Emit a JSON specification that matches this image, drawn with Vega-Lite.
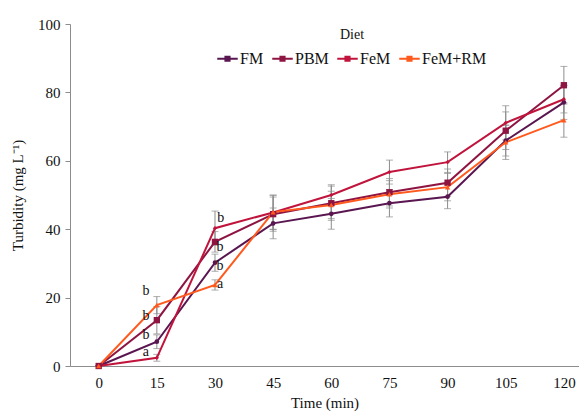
{
  "$schema": "https://vega.github.io/schema/vega-lite/v6.json",
  "width": 509,
  "height": 342,
  "autosize": {"type": "none"},
  "padding": {"left": 70, "top": 24, "right": 0, "bottom": 50},
  "background": "white",
  "config": {
    "font": "Liberation Serif",
    "view": {"stroke": null},
    "axis": {"grid": false, "domainColor": "#8c8c8c", "tickColor": "#8c8c8c", "labelColor": "#111", "titleColor": "#111", "labelFont": "Liberation Serif", "titleFont": "Liberation Serif", "labelFontSize": 15, "titleFontSize": 15, "titleFontWeight": "normal"}
  },
  "datasets": {
    "pts": [
      {"time": 0, "diet": "FM", "value": 0, "sd": 0},
      {"time": 15, "diet": "FM", "value": 7.1, "sd": 2},
      {"time": 30, "diet": "FM", "value": 30.2, "sd": 2.5},
      {"time": 45, "diet": "FM", "value": 41.7, "sd": 4.5},
      {"time": 60, "diet": "FM", "value": 44.5, "sd": 4.5},
      {"time": 75, "diet": "FM", "value": 47.6, "sd": 4},
      {"time": 90, "diet": "FM", "value": 49.5, "sd": 3.5},
      {"time": 105, "diet": "FM", "value": 65.9, "sd": 4.5},
      {"time": 120, "diet": "FM", "value": 77.1, "sd": 5},
      {"time": 0, "diet": "PBM", "value": 0, "sd": 0},
      {"time": 15, "diet": "PBM", "value": 13.4, "sd": 4},
      {"time": 30, "diet": "PBM", "value": 36.3, "sd": 3},
      {"time": 45, "diet": "PBM", "value": 44.4, "sd": 5},
      {"time": 60, "diet": "PBM", "value": 47.6, "sd": 5},
      {"time": 75, "diet": "PBM", "value": 50.8, "sd": 4},
      {"time": 90, "diet": "PBM", "value": 53.6, "sd": 4},
      {"time": 105, "diet": "PBM", "value": 68.8, "sd": 5.5},
      {"time": 120, "diet": "PBM", "value": 82.1, "sd": 5.5},
      {"time": 0, "diet": "FeM", "value": 0, "sd": 0},
      {"time": 15, "diet": "FeM", "value": 2.4, "sd": 1},
      {"time": 30, "diet": "FeM", "value": 40.3, "sd": 5},
      {"time": 45, "diet": "FeM", "value": 44.9, "sd": 5},
      {"time": 60, "diet": "FeM", "value": 50.0, "sd": 3},
      {"time": 75, "diet": "FeM", "value": 56.7, "sd": 3.5},
      {"time": 90, "diet": "FeM", "value": 59.6, "sd": 3},
      {"time": 105, "diet": "FeM", "value": 71.1, "sd": 5},
      {"time": 120, "diet": "FeM", "value": 78.0, "sd": 4},
      {"time": 0, "diet": "FeM+RM", "value": 0, "sd": 0},
      {"time": 15, "diet": "FeM+RM", "value": 17.8, "sd": 2.5},
      {"time": 30, "diet": "FeM+RM", "value": 23.7, "sd": 1.5},
      {"time": 45, "diet": "FeM+RM", "value": 45.0, "sd": 5},
      {"time": 60, "diet": "FeM+RM", "value": 47.1, "sd": 4},
      {"time": 75, "diet": "FeM+RM", "value": 50.2, "sd": 4},
      {"time": 90, "diet": "FeM+RM", "value": 52.3, "sd": 4},
      {"time": 105, "diet": "FeM+RM", "value": 65.4, "sd": 5},
      {"time": 120, "diet": "FeM+RM", "value": 71.9, "sd": 5}
    ],
    "letters": [
      {"time": 12.2, "pos": 22.0, "letter": "b"},
      {"time": 12.2, "pos": 14.5, "letter": "b"},
      {"time": 12.2, "pos": 9.0, "letter": "b"},
      {"time": 12.2, "pos": 4.0, "letter": "a"},
      {"time": 31.5, "pos": 43.3, "letter": "b"},
      {"time": 31.3, "pos": 34.9, "letter": "b"},
      {"time": 31.3, "pos": 29.3, "letter": "b"},
      {"time": 31.3, "pos": 23.9, "letter": "a"}
    ]
  },
  "layer": [
    {
      "data": {"name": "pts"},
      "mark": {"type": "errorbar", "ticks": {"size": 7, "color": "#8c8c8c", "strokeWidth": 1}, "rule": {"color": "#8c8c8c", "strokeWidth": 1}},
      "encoding": {
        "x": {"field": "time", "type": "quantitative", "title": "Time (min)"},
        "y": {"field": "value", "type": "quantitative", "title": "Turbidity (mg L⁻¹)"},
        "yError": {"field": "sd"}
      }
    },
    {
      "data": {"name": "pts"},
      "mark": {"type": "line", "strokeWidth": 2},
      "encoding": {
        "x": {"field": "time", "type": "quantitative", "scale": {"domain": [-7.4, 123.9], "nice": false, "zero": false},
          "axis": {"values": [0, 15, 30, 45, 60, 75, 90, 105, 120], "ticks": false, "labelFont": "Liberation Serif", "titleFont": "Liberation Serif", "titleFontWeight": "normal", "labelPadding": 9, "titlePadding": 5}, "title": "Time (min)"},
        "y": {"field": "value", "type": "quantitative", "scale": {"domain": [0, 100], "nice": false},
          "axis": {"values": [0, 20, 40, 60, 80, 100], "tickSize": 5, "labelPadding": 5, "labelFont": "Liberation Serif", "titleFont": "Liberation Serif", "titleFontWeight": "normal", "titlePadding": 12}, "title": "Turbidity (mg L⁻¹)"},
        "color": {"field": "diet", "type": "nominal",
          "scale": {"domain": ["FM", "PBM", "FeM", "FeM+RM"], "range": ["#5a1650", "#8e1442", "#c0143c", "#ff5a1e"]},
          "legend": {"orient": "none", "legendX": 147, "legendY": 4, "direction": "horizontal", "title": "Diet", "titleAnchor": "middle", "titleFontSize": 14, "titleFontWeight": "normal", "titleColor": "#111", "titleFont": "Liberation Serif", "titlePadding": 6,
            "labelFont": "Liberation Serif", "labelFontSize": 16, "labelColor": "#111", "labelOffset": 2, "columnPadding": 8,
            "symbolType": "M-1,-0.1H1V0.1H-1Z M-0.3,-0.3H0.3V0.3H-0.3Z", "symbolSize": 420, "symbolStrokeWidth": 0,
            "encode": {"symbols": {"update": {"fill": {"scale": "color", "field": "value"}, "opacity": {"value": 1}}}}}
        }
      }
    },
    {
      "data": {"name": "pts"},
      "transform": [{"filter": "datum.diet === 'FM'"}],
      "mark": {"type": "point", "filled": true, "opacity": 1, "shape": "circle", "size": 22},
      "encoding": {
        "x": {"field": "time", "type": "quantitative"},
        "y": {"field": "value", "type": "quantitative"},
        "color": {"field": "diet", "type": "nominal", "legend": null}
      }
    },
    {
      "data": {"name": "pts"},
      "transform": [{"filter": "datum.diet === 'PBM'"}],
      "mark": {"type": "point", "filled": true, "opacity": 1, "shape": "square", "size": 40},
      "encoding": {
        "x": {"field": "time", "type": "quantitative"},
        "y": {"field": "value", "type": "quantitative"},
        "color": {"field": "diet", "type": "nominal", "legend": null}
      }
    },
    {
      "data": {"name": "pts"},
      "transform": [{"filter": "datum.diet === 'FeM'"}],
      "mark": {"type": "point", "filled": true, "opacity": 1, "shape": "diamond", "size": 18},
      "encoding": {
        "x": {"field": "time", "type": "quantitative"},
        "y": {"field": "value", "type": "quantitative"},
        "color": {"field": "diet", "type": "nominal", "legend": null}
      }
    },
    {
      "data": {"name": "pts"},
      "transform": [{"filter": "datum.diet === 'FeM+RM'"}],
      "mark": {"type": "point", "filled": true, "opacity": 1, "shape": "triangle-up", "size": 28},
      "encoding": {
        "x": {"field": "time", "type": "quantitative"},
        "y": {"field": "value", "type": "quantitative"},
        "color": {"field": "diet", "type": "nominal", "legend": null}
      }
    },
    {
      "data": {"name": "letters"},
      "mark": {"type": "text", "font": "Liberation Serif", "fontSize": 14, "color": "#111", "align": "center", "baseline": "middle"},
      "encoding": {
        "x": {"field": "time", "type": "quantitative"},
        "y": {"field": "pos", "type": "quantitative"},
        "text": {"field": "letter"}
      }
    }
  ]
}
